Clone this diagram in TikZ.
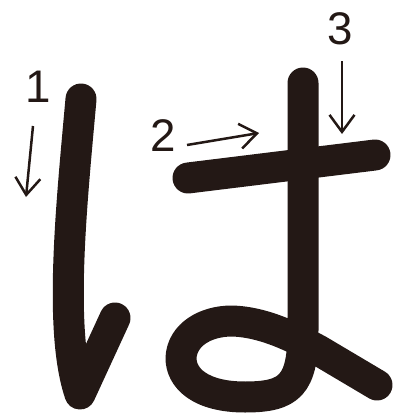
\documentclass[tikz,border=0pt]{standalone}
\usepackage{fontspec}
\setmainfont{Liberation Sans}
\usetikzlibrary{arrows.meta, positioning}
\definecolor{encre}{HTML}{231815}
\tikzset{
	trait/.style={
		draw=encre,
		line width=6.2mm,
		line cap=round,
		line join=round
	},
	fleche/.style={
		-{Straight Barb[length=3.4mm, width=5mm, line width=0.5mm]},
		line width=0.5mm,
		draw=encre
	},
	numero/.style={
		font=\fontsize{26}{26}\selectfont,
		text=encre,
		inner sep=0pt
	}
}

\begin{document}
\begin{tikzpicture}[x=0.2mm, y=-0.2mm]
		
		\useasboundingbox (0,0) rectangle (393,419);
		
		% Trait 1
		\draw[trait] (81,99) .. controls (72,200) and (58,330) .. (80,394) -- (115,318);
		
		% Trait 2
		\draw[trait] (188,178) -- (375,155);
		
		% Trait 3
		\draw[trait] (303,83) -- (303,330) .. controls (303,385) and (290,397) .. (245,397)
			.. controls (200,397) and (181,378) .. (181,358)
			.. controls (182,335) and (205,321) .. (232,321)
			.. controls (265,322) and (295,338) .. (318,350) -- (377,385);
		
		% Numeros
		\node[numero] (n1) at (38,87) {1};
		\node[numero] (n2) at (163,136) {2};
		\node[numero] (n3) at (340,29) {3};
		
		% Fleches
		\coordinate (d1) at (33,126);
		\coordinate (f1) at (26,197);
		\coordinate (d2) at (187,145);
		\coordinate (f2) at (259,133);
		\coordinate (d3) at (342,61);
		\coordinate (f3) at (342,134);
		
		\draw[fleche] (d1) -- (f1);
		\draw[fleche] (d2) -- (f2);
		\draw[fleche] (d3) -- (f3);
		
	\end{tikzpicture}
\end{document}
